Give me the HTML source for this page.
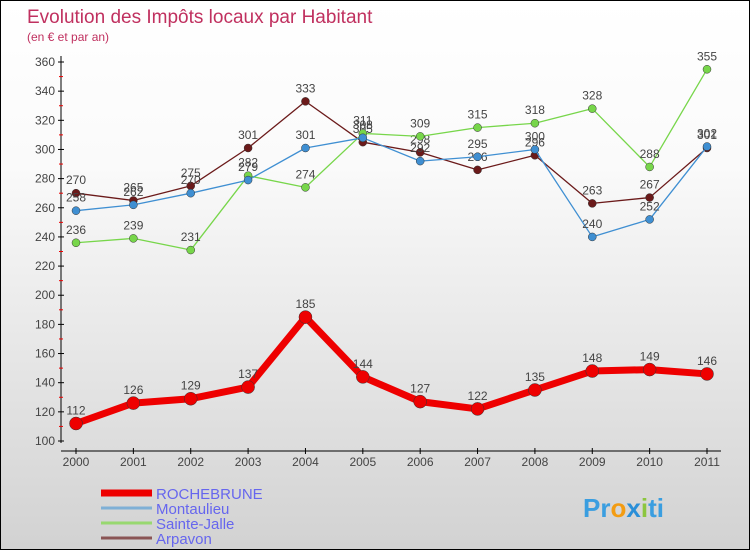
<!DOCTYPE html>
<html><head><meta charset="utf-8"><style>
body{margin:0}
#c{width:748px;height:548px;border:1px solid #000;background:linear-gradient(#fff,#fafafa 30%,#d2d2d2);position:relative;overflow:hidden;font-family:"Liberation Sans",sans-serif}
</style></head><body>
<div id="c">
<svg id="s" width="748" height="548">
<text x="26" y="22" font-size="19" fill="#c0305f">Evolution des Impôts locaux par Habitant</text>
<text x="26" y="40" font-size="12" fill="#c0305f">(en € et par an)</text>
<g id="ax"></g><g id="ser"></g><g id="leg"></g>
<text x="582" y="516" font-size="26" font-weight="bold" fill="#3a9ee0">Pr<tspan fill="#f39c12">o</tspan><tspan fill="#2a8fd8">x</tspan><tspan fill="#8cc63f">i</tspan>ti</text>
</svg></div>
<script>
const years=["2000","2001","2002","2003","2004","2005","2006","2007","2008","2009","2010","2011"];
const yTicks=[100,120,140,160,180,200,220,240,260,280,300,320,340,360];
const rochebrune=[112,126,129,137,185,144,127,122,135,148,149,146];
const montaulieu=[258,262,270,279,301,308,292,295,300,240,252,302];
const sainteJalle=[236,239,231,282,274,311,309,315,318,328,288,355];
const arpavon=[270,265,275,301,333,305,298,286,296,263,267,301];
const NS="http://www.w3.org/2000/svg";
const X=i=>75+i*(706-75)/11;
const Y=v=>440-(v-100)*(440-61)/260;
function mk(t,a,p){const e=document.createElementNS(NS,t);for(const k in a)e.setAttribute(k,a[k]);p.appendChild(e);return e;}
const ax=document.getElementById('ax');
let e=mk('line',{x1:60,y1:55,x2:60,y2:442,stroke:'#000'},ax);


e=mk('line',{x1:60,y1:450,x2:720,y2:450,stroke:'#000'},ax);


yTicks.forEach((v,i)=>{
 mk('line',{x1:57,x2:63,y1:Y(v),y2:Y(v),stroke:'#000'},ax);
 if(i<yTicks.length-1)mk('line',{x1:58,x2:62,y1:Y(v+10),y2:Y(v+10),stroke:'#e00'},ax);
 const t=mk('text',{x:54,y:Y(v)+4,'font-size':12,fill:'#444','text-anchor':'end'},ax);t.textContent=v;
 
 
});
years.forEach((y,i)=>{
 mk('line',{x1:X(i),x2:X(i),y1:447,y2:453,stroke:'#000'},ax);
 const t=mk('text',{x:X(i),y:465,'font-size':12,fill:'#444','text-anchor':'middle'},ax);t.textContent=y;
 
 
});
const ser=document.getElementById('ser');
function draw(data,col,w,r,name){
 const g=mk('g',{},ser);
 
 
 const l=mk('polyline',{points:data.map((v,i)=>X(i)+','+Y(v)).join(' '),fill:'none',stroke:col,'stroke-width':w,'stroke-linejoin':'round'},g);
 
 
 data.forEach((v,i)=>{
  const c=mk('circle',{cx:X(i),cy:Y(v),r:r,fill:col,stroke:'#333','stroke-width':0.5},g);
  
  
  const t=mk('text',{x:X(i),y:Y(v)-9,'font-size':12,fill:'#444','text-anchor':'middle'},g);t.textContent=v;
  
  
 });
}
draw(arpavon,'#6b1a1a',1.3,4,'arpavon');
draw(sainteJalle,'#77d64a',1.3,4,'sainte-jalle');
draw(montaulieu,'#3f8fd2',1.3,4,'montaulieu');
draw(rochebrune,'#ee0000',7,6.5,'rochebrune');
const leg=document.getElementById('leg');
[['ROCHEBRUNE','#ee0000',7],['Montaulieu','#7fb0d6',3],['Sainte-Jalle','#98d870',3],['Arpavon','#8a5555',3]].forEach((d,i)=>{
 const y=492+i*15;
 const g=mk('g',{},leg);
 
 
 mk('line',{x1:100,x2:151,y1:y,y2:y,stroke:d[1],'stroke-width':d[2]},g);
 const t=mk('text',{x:155,y:y+6,'font-size':15,fill:'#6666ee'},g);t.textContent=d[0];
});
</script></body></html>
